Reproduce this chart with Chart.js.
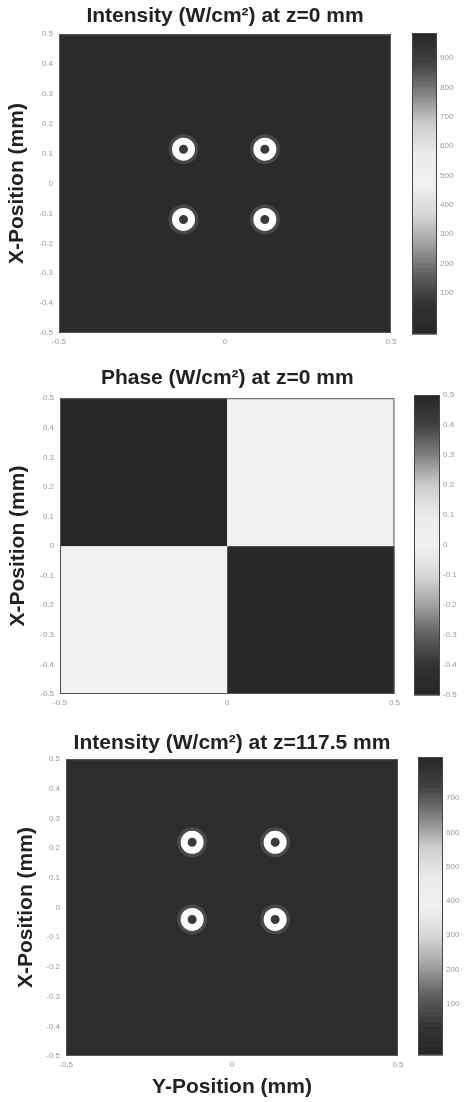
<!DOCTYPE html>
<html>
<head>
<meta charset="utf-8">
<script src="https://cdn.jsdelivr.net/npm/chart.js@4.4.1/dist/chart.umd.min.js"></script>
<style>
  html, body { margin: 0; padding: 0; background: #fff; }
  body { width: 467px; height: 1102px; position: relative; overflow: hidden; }
  canvas { position: absolute; }
</style>
</head>
<body>
<canvas id="int0" width="406" height="360" style="left:0;top:0"></canvas>
<canvas id="int0Bar" width="67" height="360" style="left:400px;top:0"></canvas>
<canvas id="phase" width="404" height="359" style="left:0;top:362px"></canvas>
<canvas id="phaseBar" width="67" height="359" style="left:400px;top:362px"></canvas>
<canvas id="int1" width="413" height="375" style="left:0;top:727px"></canvas>
<canvas id="int1Bar" width="67" height="375" style="left:400px;top:727px"></canvas>
<script>
// axis ticks (mm)
const posTicksY = [-0.5, -0.4, -0.3, -0.2, -0.1, 0, 0.1, 0.2, 0.3, 0.4, 0.5];
const posTicksX = [-0.5, 0, 0.5];

// ring centres, intensity at z = 0 mm
const ringsZ0X = [-0.125, 0.12, -0.125, 0.12];
const ringsZ0Y = [0.115, 0.115, -0.12, -0.12];
// ring centres, intensity at z = 117.5 mm
const ringsZ1X = [-0.12, 0.13, -0.12, 0.13];
const ringsZ1Y = [0.22, 0.22, -0.04, -0.04];

// phase map: cell edges and values (rows from bottom)
const phaseEdgesX = [-0.5, 0, 0.5];
const phaseEdgesY = [-0.5, 0, 0.5];
const phaseValues = [
    [0, 0.5],
    [0.5, 0]
];

// background level of the intensity maps
const intensityFloor = 0;

// colorbars
const barZ0Range = [-40, 985];
const barZ0Ticks = [100, 200, 300, 400, 500, 600, 700, 800, 900];
const barPhaseRange = [-0.5, 0.5];
const barPhaseTicks = [-0.5, -0.4, -0.3, -0.2, -0.1, 0, 0.1, 0.2, 0.3, 0.4, 0.5];
const barZ1Range = [-50, 820];
const barZ1Ticks = [100, 200, 300, 400, 500, 600, 700];

// grey rendering of the colormap (scanned jet)
const cmapT = [0, 0.1, 0.2, 0.3, 0.4, 0.5, 0.6, 0.7, 0.8, 0.9, 1];
const cmapG = [38, 50, 95, 160, 215, 240, 235, 205, 130, 65, 40];

function cmap(t) {
    t = Math.max(0, Math.min(1, t));
    for (let i = 1; i < cmapT.length; i++) {
        if (t <= cmapT[i]) {
            const f = (t - cmapT[i - 1]) / (cmapT[i] - cmapT[i - 1]);
            const g = Math.round(cmapG[i - 1] + f * (cmapG[i] - cmapG[i - 1]));
            return 'rgb(' + g + ',' + g + ',' + g + ')';
        }
    }
    return 'rgb(40,40,40)';
}

const labelFont = { family: "'Liberation Sans', Arial, sans-serif", size: 21, weight: 'bold' };
const tickFont = { family: "'Liberation Sans', Arial, sans-serif", size: 8 };

function fmt(v) {
    if (Math.abs(v) < 1e-9) return '0';
    return Math.abs(v) < 10 ? v.toFixed(1) : String(v);
}

// fills the plot with the map background or the phase cells
const mapPlugin = {
    id: 'mapPlugin',
    beforeDatasetsDraw(chart, args, opts) {
        const { ctx, chartArea, scales } = chart;
        ctx.save();
        if (opts.cells) {
            const c = opts.cells;
            for (let r = 0; r < c.values.length; r++) {
                for (let k = 0; k < c.values[r].length; k++) {
                    const x0 = scales.x.getPixelForValue(c.edgesX[k]);
                    const x1 = scales.x.getPixelForValue(c.edgesX[k + 1]);
                    const y0 = scales.y.getPixelForValue(c.edgesY[r]);
                    const y1 = scales.y.getPixelForValue(c.edgesY[r + 1]);
                    ctx.fillStyle = cmap((c.values[r][k] - c.range[0]) / (c.range[1] - c.range[0]));
                    ctx.fillRect(x0, y1, x1 - x0, y0 - y1);
                }
            }
        } else {
            ctx.fillStyle = cmap((opts.level - opts.range[0]) / (opts.range[1] - opts.range[0]));
            ctx.fillRect(chartArea.left, chartArea.top, chartArea.width, chartArea.height);
        }
        ctx.strokeStyle = '#555';
        ctx.lineWidth = 1;
        ctx.strokeRect(chartArea.left + 0.5, chartArea.top + 0.5, chartArea.width - 1, chartArea.height - 1);
        ctx.restore();
    }
};

// colour ramp of a colorbar
const rampPlugin = {
    id: 'rampPlugin',
    beforeDraw(chart) {
        const { ctx, chartArea, scales } = chart;
        const y = scales.y;
        const steps = 120;
        ctx.save();
        for (let i = 0; i < steps; i++) {
            const v0 = y.min + (y.max - y.min) * i / steps;
            const v1 = y.min + (y.max - y.min) * (i + 1) / steps;
            const p0 = y.getPixelForValue(v0);
            const p1 = y.getPixelForValue(v1);
            ctx.fillStyle = cmap((i + 0.5) / steps);
            ctx.fillRect(chartArea.left, p1, chartArea.width, p0 - p1 + 0.6);
        }
        ctx.strokeStyle = '#444';
        ctx.strokeRect(chartArea.left + 0.5, chartArea.top + 0.5, chartArea.width - 1, chartArea.height - 1);
        ctx.restore();
    }
};

// datasets listed first are drawn on top
function ringSets(xs, ys) {
    const pts = xs.map((x, i) => ({ x: x, y: ys[i] }));
    return [
        { data: pts, pointRadius: 8, borderWidth: 7, borderColor: '#ffffff', backgroundColor: '#3a3a3a' },
        { data: pts, pointRadius: 15, backgroundColor: 'rgba(140,140,140,0.3)', borderWidth: 0 }
    ];
}

function mapChart(id, o) {
    return new Chart(document.getElementById(id), {
        type: 'scatter',
        data: { datasets: o.datasets },
        plugins: [mapPlugin],
        options: {
            responsive: false,
            animation: false,
            devicePixelRatio: 1,
            events: [],
            layout: { padding: 0 },
            plugins: {
                legend: { display: false },
                tooltip: { enabled: false },
                title: {
                    display: true,
                    text: o.title,
                    font: labelFont,
                    color: '#222',
                    fullSize: false,
                    padding: { top: 4, bottom: o.titleGap }
                },
                mapPlugin: o.map
            },
            scales: {
                x: {
                    type: 'linear', min: -0.5, max: 0.5,
                    afterBuildTicks: (axis) => { axis.ticks = posTicksX.map(v => ({ value: v })); },
                    afterFit: (axis) => { axis.height = o.xHeight; },
                    ticks: { font: tickFont, color: '#999', padding: 4, maxRotation: 0, callback: fmt },
                    grid: { display: false, drawTicks: false },
                    border: { display: false },
                    title: o.xTitle ? { display: true, text: o.xTitle, font: labelFont, color: '#222', padding: { top: 0, bottom: 2 } } : { display: false }
                },
                y: {
                    type: 'linear', min: -0.5, max: 0.5,
                    afterBuildTicks: (axis) => { axis.ticks = posTicksY.map(v => ({ value: v })); },
                    afterFit: (axis) => { axis.width = o.yWidth; },
                    ticks: { font: tickFont, color: '#999', padding: 6, callback: fmt },
                    grid: { display: false, drawTicks: false },
                    border: { display: false },
                    title: { display: true, text: 'X-Position (mm)', font: labelFont, color: '#222', padding: { top: o.yTitlePad, bottom: 0 } }
                }
            }
        }
    });
}

function barChart(id, o) {
    return new Chart(document.getElementById(id), {
        type: 'scatter',
        data: { datasets: [] },
        plugins: [rampPlugin],
        options: {
            responsive: false,
            animation: false,
            devicePixelRatio: 1,
            events: [],
            layout: { padding: o.pad },
            plugins: { legend: { display: false }, tooltip: { enabled: false } },
            scales: {
                x: { display: false, min: 0, max: 1 },
                y: {
                    type: 'linear', position: 'right', min: o.range[0], max: o.range[1],
                    afterBuildTicks: (axis) => { axis.ticks = o.ticks.map(v => ({ value: v })); },
                    afterFit: (axis) => { axis.width = o.axisWidth; },
                    ticks: { font: tickFont, color: '#999', padding: 3, callback: fmt },
                    grid: { display: false, drawTicks: false },
                    border: { display: false }
                }
            }
        }
    });
}

mapChart('int0', {
    title: 'Intensity (W/cm²) at z=0 mm',
    titleGap: 5, xHeight: 27, yWidth: 59, yTitlePad: 5,
    datasets: ringSets(ringsZ0X, ringsZ0Y),
    map: { level: intensityFloor, range: barZ0Range }
});
barChart('int0Bar', { range: barZ0Range, ticks: barZ0Ticks, pad: { left: 12, top: 33, bottom: 26, right: 0 }, axisWidth: 30 });

mapChart('phase', {
    title: 'Phase (W/cm²) at z=0 mm',
    titleGap: 7, xHeight: 27, yWidth: 60, yTitlePad: 6,
    datasets: [],
    map: { cells: { edgesX: phaseEdgesX, edgesY: phaseEdgesY, values: phaseValues, range: barPhaseRange } }
});
barChart('phaseBar', { range: barPhaseRange, ticks: barPhaseTicks, pad: { left: 14, top: 33, bottom: 26, right: 0 }, axisWidth: 27 });

mapChart('int1', {
    title: 'Intensity (W/cm²) at z=117.5 mm',
    titleGap: 3, xHeight: 46, yWidth: 66, yTitlePad: 14,
    xTitle: 'Y-Position (mm)',
    datasets: ringSets(ringsZ1X, ringsZ1Y),
    map: { level: intensityFloor, range: barZ1Range }
});
barChart('int1Bar', { range: barZ1Range, ticks: barZ1Ticks, pad: { left: 18, top: 30, bottom: 47, right: 0 }, axisWidth: 24 });
</script>
</body>
</html>
